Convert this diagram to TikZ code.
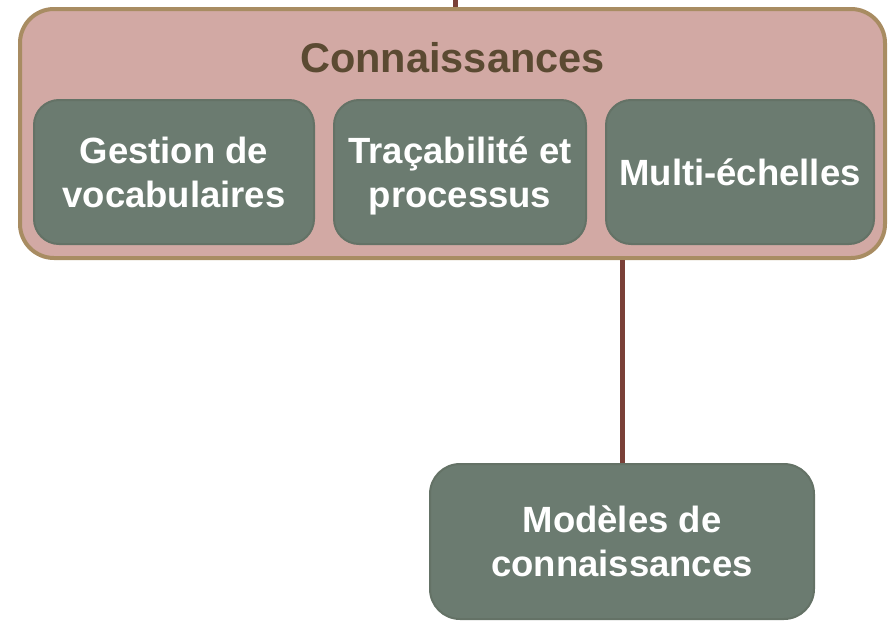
\documentclass[tikz,border=0pt]{standalone}
\usepackage{fontspec}
\setmainfont{Liberation Sans}
\definecolor{outerfill}{HTML}{D2A9A4}
\definecolor{outerdraw}{HTML}{A88C62}
\definecolor{titlecol}{HTML}{5B4A32}
\definecolor{boxfill}{HTML}{6B7B70}
\definecolor{boxdraw}{HTML}{647266}
\definecolor{linkcol}{HTML}{7A4038}
\begin{document}
\begin{tikzpicture}[x=1pt,y=-1pt,
  outerbox/.style={draw=outerdraw, fill=outerfill, line width=4pt, rounded corners=34pt, inner sep=0pt},
  greenbox/.style={draw=boxdraw, fill=boxfill, line width=2pt, rounded corners=25pt, inner sep=0pt,
    text=white, font=\fontsize{36.5}{44}\selectfont\bfseries, align=center},
  titletext/.style={text=titlecol, font=\fontsize{41.5}{48}\selectfont\bfseries, inner sep=0pt},
  link/.style={draw=linkcol, line width=5pt}]
\useasboundingbox (0,0) rectangle (892,621);
\node[outerbox, minimum width=865pt, minimum height=249pt] (know) at (452.5,133.5) {};
\node[titletext, anchor=base] (title) at (452.5,72) {Connaissances};
\node[greenbox, minimum width=280pt, minimum height=144pt] (voc) at (174,172) {Gestion de\\vocabulaires};
\node[greenbox, minimum width=252pt, minimum height=144pt] (trac) at (460,172) {Traçabilité et\\\smash{processus}};
\node[greenbox, minimum width=268pt, minimum height=144pt] (multi) at (740,172) {Multi-échelles};
\node[greenbox, minimum width=384pt, minimum height=155pt, rounded corners=30pt] (model) at (622,541.5) {Modèles de\\connaissances};
\coordinate (topend) at (455,0);
\draw[link] (topend) -- (topend |- know.north);
\draw[link] (model.north) -- (model.north |- know.south);
\end{tikzpicture}
\end{document}
